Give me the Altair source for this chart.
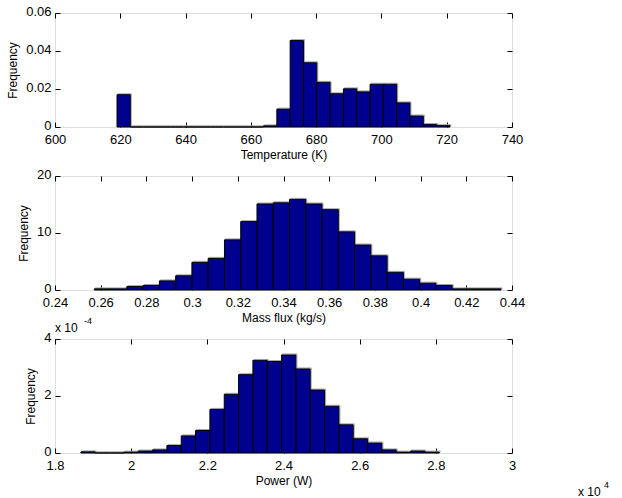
import altair as alt
import pandas as pd
import numpy as np

# ---- data ----
temp_freq = [0.0170, 0, 0, 0, 0, 0, 0, 0, 0, 0, 0,
             0.0006, 0.0094, 0.0455, 0.0338, 0.0235, 0.0175, 0.0201,
             0.0185, 0.0225, 0.0225, 0.0127, 0.0058, 0.0013, 0.0007]
temp_range = [619.0, 721.0]
temp_ticks = [600, 620, 640, 660, 680, 700, 720, 740]

mass_freq = [0.2, 0.2, 0.6, 0.8, 1.6, 2.5, 4.85, 5.55, 8.8, 12.0, 15.1, 15.3,
             15.9, 15.1, 14.1, 10.2, 7.9, 6.0, 3.1, 1.9, 1.2, 0.8, 0.2, 0.2, 0.2]
mass_range = [0.2572, 0.4352]
mass_ticks = [0.24, 0.26, 0.28, 0.30, 0.32, 0.34, 0.36, 0.38, 0.40, 0.42, 0.44]

power_freq_e4 = [0.04, 0, 0, 0.03, 0.07, 0.11, 0.26, 0.60, 0.79, 1.53, 2.06,
                 2.75, 3.25, 3.21, 3.44, 2.95, 2.21, 1.64, 0.99, 0.50, 0.35,
                 0.11, 0.03, 0.07, 0.03]
power_range = [18680, 28090]
power_ticks = [18000, 20000, 22000, 24000, 26000, 28000, 30000]

FONT = "Liberation Sans"
LFS = 13
TFS = 12
NAVY = "#00008F"
W, H = 457, 114


def hist_df(rng, vals):
    e = np.linspace(rng[0], rng[1], len(vals) + 1)
    return pd.DataFrame({"x0": e[:-1], "x1": e[1:], "y": vals})


def panel(df, xdom, xticks, xtitle, ydom, yticks, xlabelexpr=None, yfmt=None,
          extras=()):
    xs = alt.Scale(domain=xdom, nice=False, zero=False)
    ys = alt.Scale(domain=ydom, nice=False, zero=True)
    common = dict(ticks=False, domain=False, grid=False,
                  labelFont=FONT, labelFontSize=LFS, labelColor="black",
                  titleFont=FONT, titleFontSize=TFS, titleColor="black",
                  titleFontWeight="normal", labelFlush=False, labelOverlap=False)
    xkw = dict(values=xticks, title=xtitle, labelPadding=6, titlePadding=3, **common)
    if xlabelexpr:
        xkw["labelExpr"] = xlabelexpr
    else:
        xkw["format"] = ".2~f"
    ykw = dict(values=yticks, title="Frequency", labelPadding=4, titlePadding=6,
               labelOffset=-2, **common)
    if yfmt:
        ykw["format"] = yfmt
    base = alt.Chart(df)
    shadow = base.mark_bar(filled=False, stroke="#a8a8a8", strokeWidth=1,
                           xOffset=1, x2Offset=1, yOffset=-1, y2Offset=-1).encode(
        x=alt.X("x0:Q", scale=xs, axis=alt.Axis(**xkw)),
        x2="x1:Q",
        y=alt.Y("y:Q", scale=ys, axis=alt.Axis(**ykw)),
        y2=alt.datum(0),
    )
    bars = base.mark_bar(color=NAVY, stroke="black", strokeWidth=1).encode(
        x=alt.X("x0:Q", scale=xs, axis=None),
        x2="x1:Q",
        y=alt.Y("y:Q", scale=ys, axis=None),
        y2=alt.datum(0),
    )
    tk = dict(tickSize=5, offset=-5, labels=False, domain=False, grid=False,
              title=None, tickColor="black")
    t1 = base.mark_point(opacity=0).encode(
        x=alt.X("x0:Q", scale=xs, axis=alt.Axis(orient="bottom", values=xticks, **tk)),
        y=alt.Y("y:Q", scale=ys, axis=alt.Axis(orient="left", values=yticks, **tk)),
    )
    t2 = base.mark_point(opacity=0).encode(
        x=alt.X("x0:Q", scale=xs, axis=alt.Axis(orient="top", values=xticks, **tk)),
        y=alt.Y("y:Q", scale=ys, axis=alt.Axis(orient="right", values=yticks, **tk)),
    )
    layers = [shadow, bars, t1, t2] + list(extras)
    return alt.layer(*layers).resolve_axis(x="independent", y="independent").properties(
        width=W, height=H)


def label(txt, x, y, size=TFS, align="left"):
    return alt.Chart(pd.DataFrame({"t": [txt]})).mark_text(
        font=FONT, fontSize=size, color="black", align=align, baseline="alphabetic"
    ).encode(text="t:N", x=alt.value(x), y=alt.value(y))


p1 = panel(hist_df(temp_range, temp_freq), [600, 740], temp_ticks,
           "Temperature (K)", [0, 0.06], [0, 0.02, 0.04, 0.06], yfmt=".2~f")
p2 = panel(hist_df(mass_range, mass_freq), [0.24, 0.44], mass_ticks,
           "Mass flux (kg/s)", [0, 20], [0, 10, 20])
p3 = panel(hist_df(power_range, power_freq_e4), [18000, 30000], power_ticks,
           "Power (W)", [0, 4], [0, 2, 4],
           xlabelexpr="format(datum.value / 10000, '~g')",
           extras=[label("x 10", 0, -7), label("-4", 29, -15, size=9),
                   label("x 10", 523, 157), label("4", 549, 149, size=9)])

chart = alt.vconcat(p1, p2, p3, spacing=49, bounds="flush").properties(
    padding={"left": 6, "top": 4, "right": 4, "bottom": 4}
).configure_view(stroke="black", strokeWidth=1).configure(background="white")

chart.save("out.html", embed_options={"renderer": "svg", "actions": False})
